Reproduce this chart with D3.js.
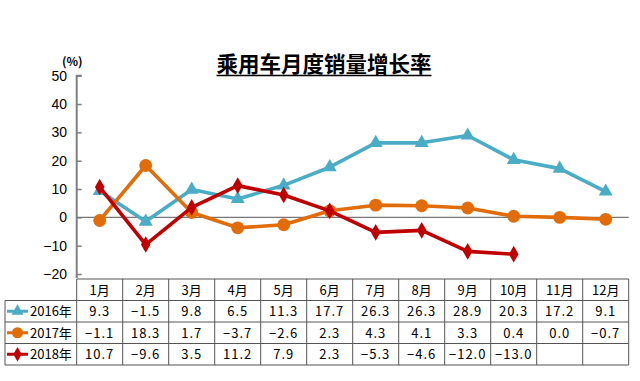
<!DOCTYPE html>
<html><head><meta charset="utf-8">
<script src="https://cdn.jsdelivr.net/npm/d3@7"></script>
<style>body{margin:0;background:#fff}svg{display:block}</style>
</head><body>
<script>
const months = ["1月","2月","3月","4月","5月","6月","7月","8月","9月","10月","11月","12月"];
const seriesNames = ["2016年","2017年","2018年"];
const s2016 = [9.3,-1.5,9.8,6.5,11.3,17.7,26.3,26.3,28.9,20.3,17.2,9.1];
const s2017 = [-1.1,18.3,1.7,-3.7,-2.6,2.3,4.3,4.1,3.3,0.4,0.0,-0.7];
const s2018 = [10.7,-9.6,3.5,11.2,7.9,2.3,-5.3,-4.6,-12.0,-13.0];
const yTicks = [-20,-10,0,10,20,30,40,50];
const colors = ["#4bacc6","#e36c0a","#c00000"];
const symbols = [d3.symbolTriangle, d3.symbolCircle, d3.symbolDiamond];
const symSizes = [85, 130, 80];
const chartTitle = "乘用车月度销量增长率";

const W=640,H=381;
const svg=d3.select("body").append("svg").attr("width",W).attr("height",H);
const pLeft=76.7,pRight=628.7,pTop=75.7,pBottom=274;
const x=d3.scaleBand().domain(months).range([pLeft,pRight]);
const y=d3.scaleLinear().domain([-20,50]).range([pBottom,pTop]);
const cn="'Noto Sans CJK SC', 'DejaVu Sans', sans-serif";

// title
const t=svg.append("text").attr("x",324).attr("y",71.5).attr("text-anchor","middle")
 .attr("font-family",cn).attr("font-weight","bold").attr("font-size",21.5).attr("fill","#000").text(chartTitle);
const bb=t.node().getBBox();
svg.append("line").attr("x1",bb.x).attr("x2",bb.x+bb.width).attr("y1",75.5).attr("y2",75.5).attr("stroke","#000").attr("stroke-width",1.5);

// unit
svg.append("text").attr("x",62).attr("y",66).attr("font-family",cn).attr("font-size",12).attr("font-weight","bold").text("(%)");

// y axis
const ax=svg.append("g").attr("transform",`translate(${pLeft},0)`)
 .call(d3.axisRight(y).tickValues(yTicks).tickSize(5).tickFormat(""));
ax.select(".domain").attr("stroke","#808080").attr("stroke-width",2).attr("d",`M5,${pTop}H0V${pBottom+4}`);
ax.selectAll(".tick line").attr("stroke","#808080").attr("stroke-width",1.5);
svg.append("g").selectAll("text").data(yTicks).join("text")
 .attr("x",67).attr("y",d=>y(d)+5).attr("text-anchor","end")
 .attr("font-family","'Liberation Sans', Arial, sans-serif").attr("font-size",14).attr("fill","#000")
 .text(d=>d<0?"\u2212"+Math.abs(d):d);

// zero line
svg.append("line").attr("x1",pLeft).attr("x2",pRight).attr("y1",y(0)).attr("y2",y(0)).attr("stroke","#777").attr("stroke-width",1.2);

// lines
const all=[s2016,s2017,s2018];
const line=d3.line().x((d,i)=>x(months[i])+x.bandwidth()/2).y(d=>y(d));
all.forEach((s,k)=>{
  svg.append("path").attr("d",line(s)).attr("fill","none").attr("stroke",colors[k]).attr("stroke-width",3.6).attr("stroke-linejoin","round");
  svg.append("g").selectAll("path").data(s).join("path")
   .attr("transform",(d,i)=>`translate(${x(months[i])+x.bandwidth()/2},${y(d)})`)
   .attr("d",d3.symbol().type(symbols[k]).size(symSizes[k])).attr("fill",colors[k]);
});

// table
const tTop=279,rowH=21.5,tLeft=5;
const g=svg.append("g");
const lc="#555";
g.append("line").attr("x1",pLeft).attr("x2",pRight).attr("y1",tTop).attr("y2",tTop).attr("stroke",lc);
for(let r=1;r<=4;r++){
  g.append("line").attr("x1",tLeft).attr("x2",pRight).attr("y1",tTop+r*rowH).attr("y2",tTop+r*rowH).attr("stroke",lc);
}
g.append("line").attr("x1",tLeft).attr("x2",tLeft).attr("y1",tTop+rowH).attr("y2",tTop+4*rowH).attr("stroke",lc);
months.forEach(m=>{
  g.append("line").attr("x1",x(m)).attr("x2",x(m)).attr("y1",tTop).attr("y2",tTop+4*rowH).attr("stroke",lc);
});
g.append("line").attr("x1",pRight).attr("x2",pRight).attr("y1",tTop).attr("y2",tTop+4*rowH).attr("stroke",lc);
g.selectAll("text.m").data(months).join("text").attr("class","m")
 .attr("x",d=>x(d)+x.bandwidth()/2).attr("y",tTop+rowH/2+5).attr("text-anchor","middle")
 .attr("font-family",cn).attr("font-size",13).text(d=>d);
all.forEach((s,k)=>{
  const cy=tTop+(k+1)*rowH+rowH/2;
  g.append("line").attr("x1",7).attr("x2",28).attr("y1",cy).attr("y2",cy).attr("stroke",colors[k]).attr("stroke-width",3);
  g.append("path").attr("transform",`translate(17.5,${cy})`).attr("d",d3.symbol().type(symbols[k]).size(symSizes[k]*0.75)).attr("fill",colors[k]);
  g.append("text").attr("x",30).attr("y",cy+5).attr("font-family",cn).attr("font-size",13).text(seriesNames[k]);
  g.selectAll(null).data(s).join("text")
   .attr("x",(d,i)=>x(months[i])+x.bandwidth()/2).attr("y",cy+5).attr("text-anchor","middle")
   .attr("font-family",cn).attr("font-size",13).attr("letter-spacing",1)
   .text(d=>(d<0?"\u2212":"")+Math.abs(d).toFixed(1));
});
</script>
</body></html>
